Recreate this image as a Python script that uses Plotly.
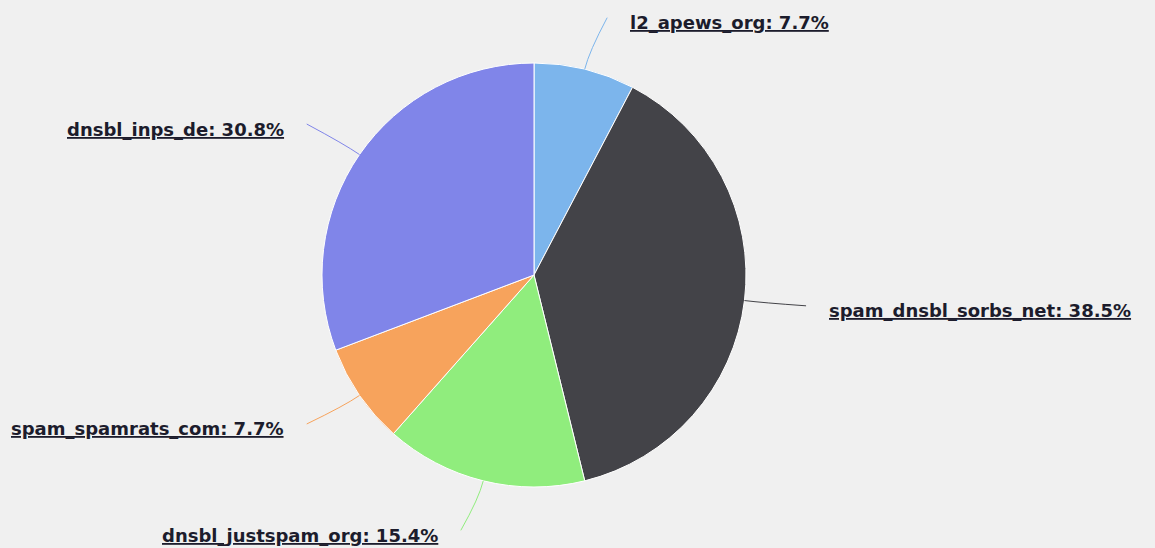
import math
import plotly.graph_objects as go

# ---- data ----
labels = ["l2_apews_org", "spam_dnsbl_sorbs_net", "dnsbl_justspam_org", "spam_spamrats_com", "dnsbl_inps_de"]
values = [1, 5, 2, 1, 4]
colors = ["#7cb5ec", "#434348", "#90ed7d", "#f7a35c", "#8085e9"]

# ---- layout geometry (pixels) ----
W, H = 1155, 548
CX, CY, R = 534, 275, 212
LABEL_DIST = 52
TEXT_GAP = 31

def px(x):
    return x / W

def py(y):
    return 1 - y / H

fig = go.Figure(go.Pie(
    labels=labels, values=values, sort=False, direction="clockwise", rotation=0,
    marker=dict(colors=colors, line=dict(color="#ffffff", width=1)),
    textinfo="none", hoverinfo="label+percent", showlegend=False,
    domain=dict(x=[px(CX - R), px(CX + R)], y=[py(CY + R), py(CY - R)]),
))

total = sum(values)
cum = 0
shapes, annotations = [], []
for lab, v, c in zip(labels, values, colors):
    mid = (cum + v / 2) / total * 2 * math.pi
    cum += v
    s, co = math.sin(mid), math.cos(mid)
    right = s >= 0
    sign = 1 if right else -1
    ex, ey = CX + R * s, CY - R * co
    rr = R + LABEL_DIST
    ly = CY - rr * co + 4
    cxl = CX + rr * s
    endx = cxl + sign * 10
    endy = ly - 5
    qx, qy = CX + (R + 18) * s, CY - (R + 18) * co
    path = f"M {px(ex)},{py(ey)} Q {px(qx)},{py(qy)} {px(endx)},{py(endy)}"
    shapes.append(dict(type="path", xref="paper", yref="paper", path=path,
                       line=dict(color=c, width=1)))
    pct = v / total * 100
    tx = cxl + sign * TEXT_GAP
    annotations.append(dict(
        x=px(tx), y=py(ly), xref="paper", yref="paper", showarrow=False,
        xanchor="left" if right else "right", yanchor="middle",
        text=f"<u><b>{lab}: {pct:.1f}%</b></u>",
        font=dict(family="DejaVu Sans", size=18, color="#1c1c2c"),
    ))

fig.update_layout(
    width=W, height=H, margin=dict(l=0, r=0, t=0, b=0),
    paper_bgcolor="#f0f0f0", plot_bgcolor="#f0f0f0",
    shapes=shapes, annotations=annotations,
)
fig.write_html("out.html", config={"displayModeBar": False},
               post_script="document.body.style.margin='0';document.body.style.background='#f0f0f0';")
